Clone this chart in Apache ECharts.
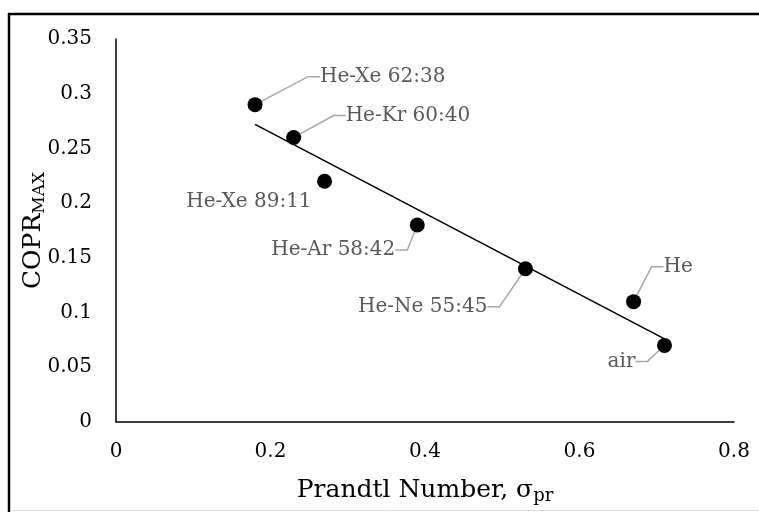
<!DOCTYPE html>
<html>
<head>
<meta charset="utf-8">
<style type="text/css">
html, body { margin: 0; padding: 0; background: #fff; }
#chart { width: 759px; height: 512px; }
</style>
<script src="https://cdn.jsdelivr.net/npm/echarts@6/dist/echarts.min.js"></script>
</head>
<body>
<div id="chart"></div>
<script type="text/javascript">
// gas mixtures: Prandtl number vs max COPR
var gasNames = ['He-Xe 62:38', 'He-Kr 60:40', 'He-Xe 89:11', 'He-Ar 58:42', 'He-Ne 55:45', 'He', 'air'];
var prandtl = [0.18, 0.23, 0.27, 0.39, 0.53, 0.67, 0.71];
var coprMax = [0.29, 0.26, 0.22, 0.18, 0.14, 0.11, 0.07];

// linear trendline end points
var trendX = [0.18, 0.71];
var trendY = [0.272, 0.076];

var xTicks = [0, 0.2, 0.4, 0.6, 0.8];
var yTicks = [0, 0.05, 0.1, 0.15, 0.2, 0.25, 0.3, 0.35];

// label placement relative to the marker (px), and text alignment
var labelOffsets = [
    [65, -28, 'left'],
    [52, -22, 'left'],
    [-13, 21, 'right'],
    [-22, 25, 'right'],
    [-38, 38, 'right'],
    [30, -35, 'left'],
    [-29, 16, 'right']
];

var font = 'DejaVu Serif';

var scatterData = [];
for (var i = 0; i < gasNames.length; i++) {
    var item = { name: gasNames[i], value: [prandtl[i], coprMax[i]] };
    if (gasNames[i] == 'He-Xe 89:11') {
        item.labelLine = { show: false };
    }
    scatterData.push(item);
}
var trendData = [];
for (var j = 0; j < trendX.length; j++) {
    trendData.push([trendX[j], trendY[j]]);
}

var myChart = echarts.init(document.getElementById('chart'), null, { renderer: 'canvas' });
var option = {
    animation: false,
    backgroundColor: '#fff',
    grid: {
        left: 116,
        right: 25,
        top: 39,
        bottom: 90
    },
    xAxis: {
        type: 'value',
        min: xTicks[0],
        max: xTicks[xTicks.length - 1],
        interval: 0.2,
        name: '{a|Prandtl Number, σ}{s|pr}',
        nameLocation: 'middle',
        nameGap: 53,
        nameMoveOverlap: false,
        nameTextStyle: {
            rich: {
                a: { fontFamily: font, fontSize: 25, color: '#000', lineHeight: 30 },
                s: { fontFamily: font, fontSize: 18, color: '#000', lineHeight: 18, verticalAlign: 'bottom', padding: [10, 0, 0, 0] }
            }
        },
        axisLine: { lineStyle: { color: '#000', width: 1.5 } },
        axisTick: { show: false },
        splitLine: { show: false },
        axisLabel: {
            margin: 20,
            fontFamily: font,
            fontSize: 20,
            color: '#000'
        }
    },
    yAxis: {
        type: 'value',
        min: yTicks[0],
        max: yTicks[yTicks.length - 1],
        interval: 0.05,
        name: '{a|COPR}{s|MAX}',
        nameLocation: 'middle',
        nameGap: 68,
        nameMoveOverlap: false,
        nameTextStyle: {
            rich: {
                a: { fontFamily: font, fontSize: 25, color: '#000', lineHeight: 30 },
                s: { fontFamily: font, fontSize: 17, color: '#000', lineHeight: 18, verticalAlign: 'bottom', padding: [10, 0, 0, 0] }
            }
        },
        axisLine: { show: true, lineStyle: { color: '#000', width: 1.5 } },
        axisTick: { show: false },
        splitLine: { show: false },
        axisLabel: {
            margin: 24,
            fontFamily: font,
            fontSize: 20,
            color: '#000'
        }
    },
    graphic: [
        { type: 'line', shape: { x1: 8, y1: 14, x2: 759, y2: 14 }, style: { stroke: '#000', lineWidth: 2.5 } },
        { type: 'line', shape: { x1: 9, y1: 13, x2: 9, y2: 512 }, style: { stroke: '#000', lineWidth: 2.5 } },
        { type: 'line', shape: { x1: 10, y1: 510.5, x2: 759, y2: 510.5 }, style: { stroke: '#d9d9d9', lineWidth: 1 } }
    ],
    series: [
        {
            name: 'trend',
            type: 'line',
            data: trendData,
            showSymbol: false,
            symbol: 'none',
            lineStyle: { color: '#000', width: 1.6 },
            z: 2
        },
        {
            name: 'gases',
            type: 'scatter',
            data: scatterData,
            symbol: 'circle',
            symbolSize: 15,
            itemStyle: { color: '#000', opacity: 1 },
            z: 3,
            label: {
                show: true,
                position: 'right',
                formatter: '{b}',
                fontFamily: font,
                fontSize: 20,
                color: '#595959'
            },
            labelLine: {
                show: true,
                length2: 12,
                lineStyle: { color: '#a6a6a6', width: 1.5 }
            },
            labelLayout: function (params) {
                var o = labelOffsets[params.dataIndex];
                return {
                    x: params.rect.x + params.rect.width / 2 + o[0],
                    y: params.rect.y + params.rect.height / 2 + o[1],
                    align: o[2],
                    verticalAlign: 'middle'
                };
            }
        }
    ]
};
myChart.setOption(option);

window.onresize = function () {
    myChart.resize();
};
</script>
</body>
</html>
